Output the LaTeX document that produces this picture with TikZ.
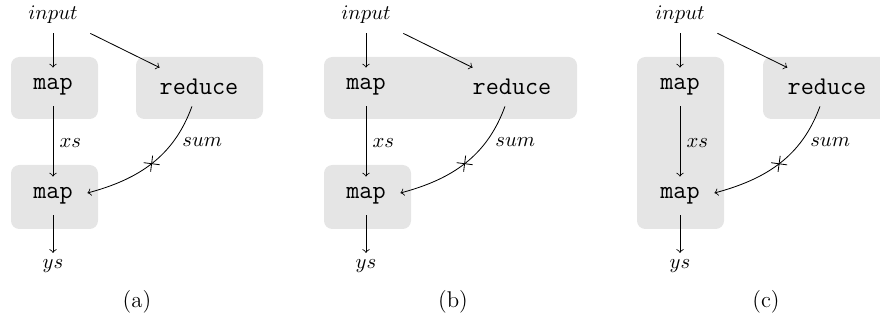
\documentclass[tikz,border=0pt]{standalone}
\usetikzlibrary{decorations.markings}
\tikzset{
  op/.style={font=\fontsize{12.3}{14}\selectfont\ttfamily, minimum height=18.4pt, inner sep=0pt},
  mapop/.style={op, minimum width=32.9pt},
  redop/.style={op, minimum width=52pt},
  inp/.style={minimum height=17.4pt, minimum width=35.7pt, inner sep=0pt},
  grp/.style={fill=black!10, rounded corners=4pt},
  lbl/.style={inner sep=3pt},
  sumlbl/.style={inner sep=4.5pt, pos=0.28, right},
  captext/.style={font=\fontsize{11}{13}\selectfont},
  crossmark/.style={postaction={decorate}, decoration={markings,
      mark=at position 0.5 with {\draw[-] (-2.75pt,-2.75pt) -- (2.75pt,2.75pt) (-2.75pt,2.75pt) -- (2.75pt,-2.75pt);}}},
  flow/.style={->},
}
\begin{document}
\begin{tikzpicture}[x=0.4831pt, y=-0.4831pt]
\clip (0,0) rectangle (880,321);

% ---------- panel (a)
\begin{scope}
  \fill[grp] (11,57) rectangle (98,119);
  \fill[grp] (136,57) rectangle (263,119);
  \fill[grp] (11,165) rectangle (98,229);
  \node[inp] (ina) at (53,15) {$input$};
  \node[mapop] (mapa1) at (53,87) {map};
  \node[redop] (reda) at (199,87) {reduce};
  \node[mapop] (mapa2) at (53,196) {map};
  \node[lbl] (ysa) at (53,266) {$ys$};
  \draw[flow] (ina) -- (mapa1);
  \draw[flow] (ina) -- (reda);
  \draw[flow] (mapa1) -- node[lbl, right, pos=0.52] {$xs$} (mapa2);
  \draw[flow] (mapa2) -- (ysa);
  \draw[flow, crossmark] (reda) to[out=-110, in=15] node[sumlbl] {$sum$} (mapa2.5);
  \node[captext] (capa) at (137,302) {(a)};
\end{scope}

% ---------- panel (b)
\begin{scope}[shift={(313,0)}]
  \fill[grp] (11,57) rectangle (264,119);
  \fill[grp] (11,165) rectangle (98,229);
  \node[inp] (inb) at (53,15) {$input$};
  \node[mapop] (mapb1) at (53,87) {map};
  \node[redop] (redb) at (199,87) {reduce};
  \node[mapop] (mapb2) at (53,196) {map};
  \node[lbl] (ysb) at (53,266) {$ys$};
  \draw[flow] (inb) -- (mapb1);
  \draw[flow] (inb) -- (redb);
  \draw[flow] (mapb1) -- node[lbl, right, pos=0.52] {$xs$} (mapb2);
  \draw[flow] (mapb2) -- (ysb);
  \draw[flow, crossmark] (redb) to[out=-110, in=15] node[sumlbl] {$sum$} (mapb2.5);
  \node[captext] (capb) at (140,302) {(b)};
\end{scope}

% ---------- panel (c)
\begin{scope}[shift={(626,0)}]
  \fill[grp] (11,57) rectangle (98,229);
  \fill[grp] (137,57) rectangle (264,119);
  \node[inp] (inc) at (54,15) {$input$};
  \node[mapop] (mapc1) at (54,87) {map};
  \node[redop] (redc) at (201,87) {reduce};
  \node[mapop] (mapc2) at (54,196) {map};
  \node[lbl] (ysc) at (54,266) {$ys$};
  \draw[flow] (inc) -- (mapc1);
  \draw[flow] (inc) -- (redc);
  \draw[flow] (mapc1) -- node[lbl, right, pos=0.52] {$xs$} (mapc2);
  \draw[flow] (mapc2) -- (ysc);
  \draw[flow, crossmark] (redc) to[out=-110, in=15] node[sumlbl] {$sum$} (mapc2.5);
  \node[captext] (capc) at (140,302) {(c)};
\end{scope}
\end{tikzpicture}
\end{document}
